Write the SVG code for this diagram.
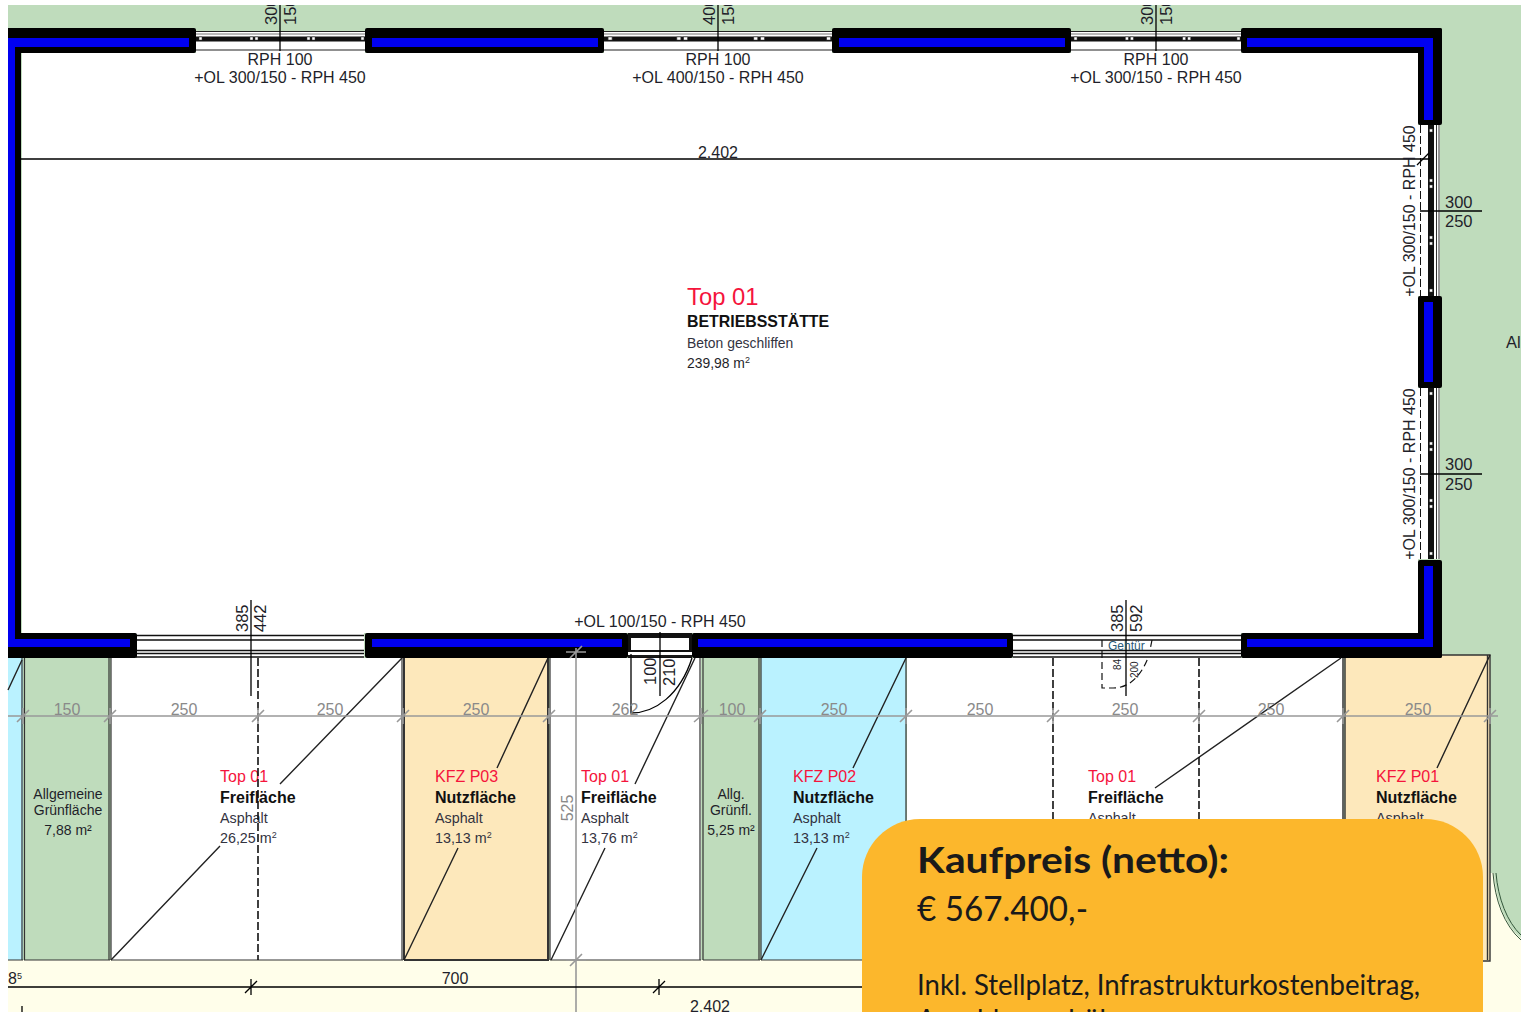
<svg xmlns="http://www.w3.org/2000/svg" width="1523" height="1012" viewBox="0 0 1523 1012">
<defs>
<style>
text{font-family:"Liberation Sans",Arial,sans-serif;fill:#1f1f2a}
.w{font-size:16px;text-anchor:middle}
.d{font-size:16.500px}
.g{font-size:16px;fill:#8a8a8a;text-anchor:middle}
.red{font-size:16px;fill:#f5143c}
.b{font-size:16px;font-weight:bold;fill:#111}
.s{font-size:14.300px;fill:#33333f}
.sm{font-size:14px;text-anchor:middle}
.sup{font-size:9px}
.card{font-family:Lato,"Noto Sans",sans-serif;fill:#1a1a1a}
.wall{fill:#000}
.core{fill:#0000f0}
.ln{stroke:#000;fill:none;stroke-width:1.3}
.dg{stroke:#222;fill:none;stroke-width:1.4}
.gl{stroke:#999;fill:none;stroke-width:1.6}
.bd{stroke:#333;fill:none;stroke-width:1.2}
.ds{stroke:#111;fill:none;stroke-width:1.6;stroke-dasharray:8 3}
.dot{fill:#fff;stroke:#333;stroke-width:.5}
</style>
<g id="winH">
<rect x="0" y="3" width="169" height="22" fill="#fff"/>
<path stroke="#222" stroke-width="1.200" fill="none" d="M0 3.500H169M0 22H169"/>
<path stroke="#777" stroke-width="1" fill="none" d="M0 6H169"/>
<rect x="0" y="8.500" width="169" height="5" fill="#111"/>
<g class="dot"><rect x="3" y="9" width="3" height="3"/><rect x="54" y="9" width="3" height="3"/><rect x="59" y="9" width="3" height="3"/><rect x="111" y="9" width="3" height="3"/><rect x="116" y="9" width="3" height="3"/><rect x="165" y="9" width="3" height="3"/></g>
</g>
<g id="winV">
<rect x="0" y="0" width="22" height="171" fill="#fff"/>
<path d="M2.500 0V171" style="stroke:#111;fill:none;stroke-width:1;stroke-dasharray:8 3"/>
<rect x="10" y="0" width="6" height="171" fill="#111"/>
<path stroke="#333" stroke-width="1" fill="none" d="M18.500 0V171M21 0V171"/>
<g class="dot"><rect x="11.500" y="4" width="3" height="3"/><rect x="11.500" y="54" width="3" height="3"/><rect x="11.500" y="60" width="3" height="3"/><rect x="11.500" y="111" width="3" height="3"/><rect x="11.500" y="117" width="3" height="3"/><rect x="11.500" y="164" width="3" height="3"/></g>
</g>
<g id="winB">
<rect x="0" y="0" width="228" height="25" fill="#fff"/>
<path stroke="#111" stroke-width="1.600" fill="none" d="M0 2.500H228M0 7H228M0 17.500H228M0 20.500H228M0 24H228"/>
</g>
</defs>

<rect width="1523" height="1012" fill="#fff"/>
<rect x="8" y="5" width="1513" height="1007" fill="#bfdcbc"/>
<path d="M8 960H1490V873H1494C1496 900 1505 925 1521 938V1012H8Z" fill="#fffeea"/>
<path d="M1493 873C1495 900 1504 925 1521 940M1496 873C1498 898 1507 922 1521 935" style="stroke:#33553a;fill:none;stroke-width:1"/>
<rect x="22" y="53" width="1396" height="580" fill="#fff"/>

<g id="parcels">
<g id="parcel-cyan-left"><rect x="8" y="658" width="15" height="302" fill="#baf2ff"/><path class="bd" d="M22 658V960M8 960H23"/></g>
<g id="parcel-green-1"><rect x="24" y="658" width="86" height="302" fill="#bfdcbc"/><path class="bd" d="M24.500 658V960M109 658V960M24 960H110"/><text class="sm" x="68" y="799">Allgemeine</text><text class="sm" x="68" y="815">Grünfläche</text><text class="sm" x="68" y="835">7,88 m²</text></g>
<g id="parcel-top01-a"><rect x="111" y="658" width="292" height="302" fill="#fff"/><path class="bd" d="M111 658V960M402 658V960M111 960H403"/><text class="red" x="220" y="782">Top 01</text><text class="b" x="220" y="803">Freifläche</text><text class="s" x="220" y="823">Asphalt</text><text class="s" x="220" y="843">26,25 m<tspan class="sup" dy="-5">2</tspan></text></g>
<g id="parcel-p03"><rect x="404" y="658" width="145" height="302" fill="#fde8bb"/><path class="bd" d="M404 658V960M548 658V960M404 960H549" style="stroke-width:2"/><text class="red" x="435" y="782">KFZ P03</text><text class="b" x="435" y="803">Nutzfläche</text><text class="s" x="435" y="823">Asphalt</text><text class="s" x="435" y="843">13,13 m<tspan class="sup" dy="-5">2</tspan></text></g>
<g id="parcel-top01-b"><rect x="550" y="658" width="151" height="302" fill="#fff"/><path class="bd" d="M550 658V960M700 658V960M550 960H701"/><text class="red" x="581" y="782">Top 01</text><text class="b" x="581" y="803">Freifläche</text><text class="s" x="581" y="823">Asphalt</text><text class="s" x="581" y="843">13,76 m<tspan class="sup" dy="-5">2</tspan></text></g>
<g id="parcel-green-2"><rect x="703" y="658" width="56" height="302" fill="#bfdcbc"/><path class="bd" d="M703 658V960M759 658V960M703 960H760"/><text class="sm" x="731" y="799">Allg.</text><text class="sm" x="731" y="815">Grünfl.</text><text class="sm" x="731" y="835">5,25 m²</text></g>
<g id="parcel-p02"><rect x="761" y="658" width="145" height="302" fill="#baf2ff"/><path class="bd" d="M761 658V960M906 658V960M761 960H906"/><text class="red" x="793" y="782">KFZ P02</text><text class="b" x="793" y="803">Nutzfläche</text><text class="s" x="793" y="823">Asphalt</text><text class="s" x="793" y="843">13,13 m<tspan class="sup" dy="-5">2</tspan></text></g>
<g id="parcel-top01-c"><rect x="907" y="658" width="436" height="302" fill="#fff"/><path class="bd" d="M1343 658V960M907 960H1343" style="stroke-width:1.800;stroke:#555"/><text class="red" x="1088" y="782">Top 01</text><text class="b" x="1088" y="803">Freifläche</text><text class="s" x="1088" y="823">Asphalt</text></g>
<g id="parcel-p01"><rect x="1345" y="655" width="145" height="305" fill="#fde8bb"/><path class="bd" d="M1345 658V960M1345 655H1490V961H1345M1487.500 655V960" style="stroke-width:1.400"/><text class="red" x="1376" y="782">KFZ P01</text><text class="b" x="1376" y="803">Nutzfläche</text><text class="s" x="1376" y="823">Asphalt</text></g>
</g>

<g id="building">
<use href="#winH" x="196" y="28"/>
<use href="#winH" transform="translate(604 28) scale(1.349 1)"/>
<use href="#winH" transform="translate(1071 28) scale(1.006 1)"/>
<use href="#winV" x="1418" y="125"/>
<use href="#winV" x="1418" y="388"/>
<use href="#winB" x="136" y="633"/>
<use href="#winB" x="1013" y="633"/>
<g id="door"><rect x="628" y="633" width="64" height="25" fill="#111"/><rect x="631" y="638" width="58" height="12" fill="#fff"/><rect x="628" y="652" width="64" height="3" fill="#fff"/><path stroke="#222" fill="none" d="M628 656H692"/></g>
<g class="wall">
<rect x="8" y="28" width="188" height="25" rx="2"/><rect x="365" y="28" width="239" height="25" rx="2"/><rect x="832" y="28" width="239" height="25" rx="2"/><rect x="1241" y="28" width="201" height="25" rx="2"/>
<rect x="8" y="28" width="13" height="630"/>
<rect x="1418" y="28" width="24" height="97" rx="2"/><rect x="1418" y="296" width="24" height="92" rx="2"/><rect x="1418" y="560" width="24" height="98" rx="2"/>
<rect x="8" y="633" width="129" height="25" rx="2"/><rect x="365" y="633" width="263" height="25" rx="2"/><rect x="692" y="633" width="321" height="25" rx="2"/><rect x="1241" y="633" width="201" height="25" rx="2"/>
</g>
<g class="core">
<rect x="8" y="38" width="181" height="9"/><rect x="372" y="38" width="226" height="9"/><rect x="839" y="38" width="226" height="9"/><rect x="1247" y="38" width="186" height="9"/>
<rect x="8" y="38" width="7" height="609"/>
<rect x="1424" y="38" width="9" height="82"/><rect x="1424" y="302" width="9" height="80"/><rect x="1424" y="566" width="9" height="81"/>
<rect x="8" y="639" width="122" height="8"/><rect x="372" y="639" width="250" height="8"/><rect x="698" y="639" width="309" height="8"/><rect x="1247" y="639" width="186" height="8"/>
</g>
</g>

<g id="connectors">
<path class="dg" d="M8 690L22 660M111 960L220 846M280 784L402 658M404 960L458 848M497 768L548 658M551 960L605 848M635 784L695 658M761 960L817 848M853 768L906 658M1155 788L1341 658M1437 768L1490 655"/>
<path class="ds" d="M258 658V960M1053 658V960M1199 658V960"/>
<path class="gl" d="M8 716H1498M576 648V1012"/>
<path class="gl" d="M17 722L29 710M23 708V724M104 722L116 710M110 708V724M252 722L264 710M258 708V724M397 722L409 710M403 708V724M543 722L555 710M549 708V724M694 722L708 710M701 708V724M754 722L766 710M760 708V724M900 722L912 710M906 708V724M1047 722L1059 710M1053 708V724M1193 722L1205 710M1199 708V724M1337 722L1349 710M1343 708V724M1484 722L1496 710M1490 708V724M566 652H586M570 658L582 646M566 960H586M570 966L582 954"/>
<path class="ln" d="M8 987H862M21 159H1430M1420 211H1482M1420 474H1482M22 1006V1012"/>
<path class="ln" d="M245 993L257 981M251 979V995M653 993L665 981M659 979V995M1417 165L1429 153"/>
<path class="ln" d="M280 5V51M718 5V51M1156 5V51M251 600V696M1126 600V696M660 632V696"/>
<path class="ln" d="M631 654V713C655 713 680 695 692 658"/>
<path d="M1102 640V688H1113C1128 688 1140 678 1148 658M1152 640L1150 650" style="stroke:#111;fill:none;stroke-width:1.200;stroke-dasharray:7 4"/>
</g>

<g id="room-top01">
<text x="687" y="305" style="font-size:23.800px;fill:#f5143c">Top 01</text>
<text x="687" y="327" style="font-size:15.900px;font-weight:bold;fill:#111">BETRIEBSSTÄTTE</text>
<text x="687" y="348" style="font-size:13.900px;fill:#33333f">Beton geschliffen</text>
<text x="687" y="368" style="font-size:13.900px">239,98 m<tspan class="sup" dy="-5">2</tspan></text>
</g>

<g id="labels">
<text class="w" x="280" y="65">RPH 100</text><text class="w" x="280" y="83">+OL 300/150 - RPH 450</text>
<text class="w" x="718" y="65">RPH 100</text><text class="w" x="718" y="83">+OL 400/150 - RPH 450</text>
<text class="w" x="1156" y="65">RPH 100</text><text class="w" x="1156" y="83">+OL 300/150 - RPH 450</text>
<text class="w" x="718" y="158">2.402</text>
<text class="w" x="660" y="627">+OL 100/150 - RPH 450</text>
<text class="w" transform="translate(1415 211) rotate(-90)">+OL 300/150 - RPH 450</text>
<text class="w" transform="translate(1415 474) rotate(-90)">+OL 300/150 - RPH 450</text>
<text class="d" x="1445" y="208">300</text><text class="d" x="1445" y="227">250</text>
<text class="d" x="1445" y="470" >300</text><text class="d" x="1445" y="490">250</text>
<text class="d" x="1506" y="348">Al</text>
<text class="d" transform="translate(277 25) rotate(-90)">300</text><text class="d" transform="translate(296 25) rotate(-90)">150</text>
<text class="d" transform="translate(715 25) rotate(-90)">400</text><text class="d" transform="translate(734 25) rotate(-90)">150</text>
<text class="d" transform="translate(1153 25) rotate(-90)">300</text><text class="d" transform="translate(1172 25) rotate(-90)">150</text>
<text class="d" transform="translate(248 632) rotate(-90)">385</text><text class="d" transform="translate(266 632) rotate(-90)">442</text>
<text class="d" transform="translate(1123 632) rotate(-90)">385</text><text class="d" transform="translate(1142 632) rotate(-90)">592</text>
<text class="d" transform="translate(656 685) rotate(-90)">100</text><text class="d" transform="translate(675 686) rotate(-90)">210</text>
<text x="1108" y="650" style="font-size:12px;fill:#2a5a78">Gehtür</text>
<text transform="translate(1121 670) rotate(-90)" style="font-size:10px">84</text><text transform="translate(1138 678) rotate(-90)" style="font-size:10px">200</text>
<text class="g" x="67" y="715">150</text><text class="g" x="184" y="715">250</text><text class="g" x="330" y="715">250</text><text class="g" x="476" y="715">250</text><text class="g" x="625" y="715">262</text><text class="g" x="732" y="715">100</text><text class="g" x="834" y="715">250</text><text class="g" x="980" y="715">250</text><text class="g" x="1125" y="715">250</text><text class="g" x="1271" y="715">250</text><text class="g" x="1418" y="715">250</text>
<text class="g" transform="translate(573 808) rotate(-90)">525</text>
<text x="8" y="984" style="font-size:16px">8<tspan class="sup" dy="-5">5</tspan></text>
<text class="w" x="455" y="984">700</text>
<text class="w" x="710" y="1012">2.402</text>
</g>

<rect x="0" y="0" width="1523" height="5" fill="#fff"/>
<rect x="1521" y="0" width="2" height="1012" fill="#fff"/>

<g id="price-card">
<path d="M862 1012V877C862 845 888 819 920 819H1425C1457 819 1483 845 1483 877V1012Z" fill="#fcb72c"/>
<text class="card" x="917" y="873" textLength="312" lengthAdjust="spacingAndGlyphs" style="font-size:36px;font-weight:bold">Kaufpreis (netto):</text>
<text class="card" x="917" y="921" textLength="171" lengthAdjust="spacingAndGlyphs" style="font-size:34px">€ 567.400,-</text>
<text class="card" x="917" y="995" textLength="503" lengthAdjust="spacingAndGlyphs" style="font-size:28px">Inkl. Stellplatz, Infrastrukturkostenbeitrag,</text>
<text class="card" x="917" y="1030" style="font-size:28px">Anschlussgebühren</text>
</g>
</svg>
